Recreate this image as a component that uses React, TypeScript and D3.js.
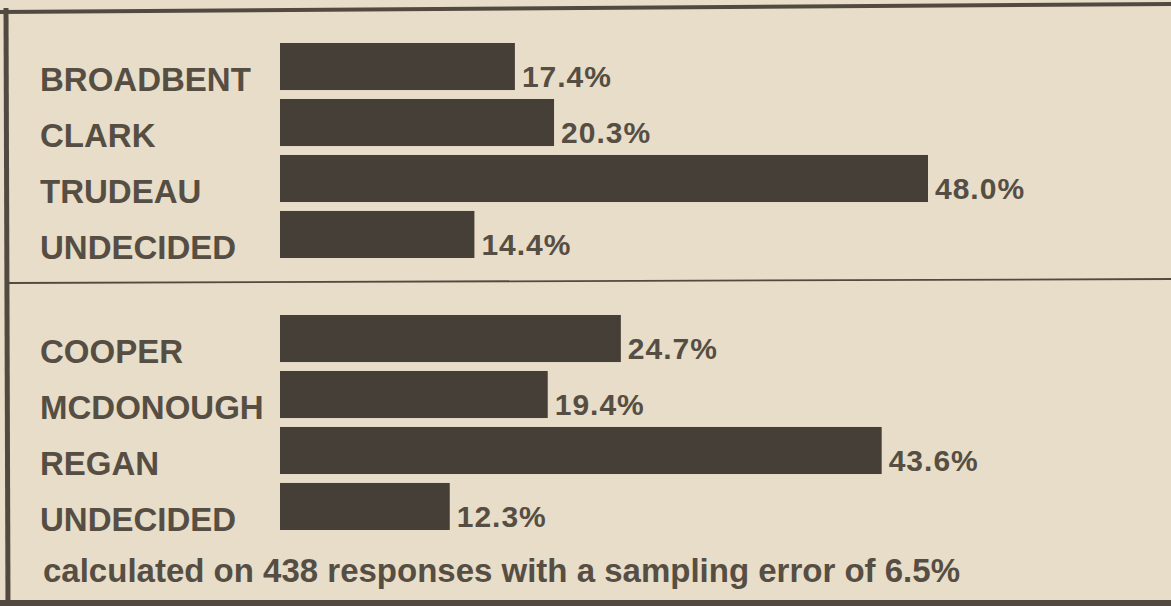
import React, { useEffect, useRef } from 'react';
import * as d3 from 'd3';

// Federal leaders (top panel)
const federalNames = ['BROADBENT', 'CLARK', 'TRUDEAU', 'UNDECIDED'];
const federalValues = [17.4, 20.3, 48.0, 14.4];

// Provincial / local (bottom panel)
const localNames = ['COOPER', 'MCDONOUGH', 'REGAN', 'UNDECIDED'];
const localValues = [24.7, 19.4, 43.6, 12.3];

const footnote = 'calculated on 438 responses with a sampling error of 6.5%';

const WIDTH = 1171;
const HEIGHT = 606;

const PAPER = '#e7ddc9';
const INK = '#463f37';
const TEXT = '#564e43';
const FONT = '"Liberation Sans", Arial, Helvetica, sans-serif';

interface Panel {
    names: string[];
    values: number[];
    yRange: [number, number];
    xMax: number;
}

const App: React.FC = () => {
    const svgRef = useRef<SVGSVGElement | null>(null);

    useEffect(() => {
        if (!svgRef.current) return;
        const svg = d3.select(svgRef.current);
        svg.selectAll('*').remove();

        svg.append('rect')
            .attr('width', WIDTH)
            .attr('height', HEIGHT)
            .attr('fill', PAPER);

        const labelX = 40;
        const barX = 280;

        const panels: Panel[] = [
            { names: federalNames, values: federalValues, yRange: [43, 258], xMax: 675 },
            { names: localNames, values: localValues, yRange: [315, 530], xMax: 690 },
        ];

        panels.forEach((p, i) => {
            const rows = p.names.map((n, j) => ({ key: `${i}-${j}`, name: n, value: p.values[j] }));

            const y = d3.scaleBand<string>()
                .domain(rows.map(r => r.key))
                .range(p.yRange)
                .paddingInner(0.16)
                .paddingOuter(0);

            // each panel was drawn on its own scale in the clipping
            const x = d3.scaleLinear()
                .domain([0, 50])
                .range([barX, barX + p.xMax]);

            const g = svg.append('g').attr('class', `panel-${i}`);

            g.selectAll('rect')
                .data(rows)
                .enter()
                .append('rect')
                .attr('x', x(0))
                .attr('y', d => y(d.key)!)
                .attr('width', d => x(d.value) - x(0))
                .attr('height', y.bandwidth())
                .attr('fill', INK);

            g.selectAll('text.name')
                .data(rows)
                .enter()
                .append('text')
                .attr('class', 'name')
                .attr('x', labelX)
                .attr('y', d => y(d.key)! + y.bandwidth() + 1)
                .attr('font-family', FONT)
                .attr('font-weight', 'bold')
                .attr('font-size', 33)
                .attr('fill', TEXT)
                .text(d => d.name);

            g.selectAll('text.value')
                .data(rows)
                .enter()
                .append('text')
                .attr('class', 'value')
                .attr('x', d => x(d.value) + 7)
                .attr('y', d => y(d.key)! + y.bandwidth() - 3)
                .attr('font-family', FONT)
                .attr('font-weight', 'bold')
                .attr('font-size', 30)
                .attr('letter-spacing', 1)
                .attr('fill', TEXT)
                .text(d => `${d.value.toFixed(1)}%`);
        });

        svg.append('text')
            .attr('x', 43)
            .attr('y', 582)
            .attr('font-family', FONT)
            .attr('font-weight', 'bold')
            .attr('font-size', 33)
            .attr('fill', TEXT)
            .text(footnote);

        // frame of the clipping (slightly skewed scan)
        const frame = svg.append('g').attr('stroke', '#524a40').attr('fill', 'none');
        frame.append('line')
            .attr('x1', 0).attr('y1', 12)
            .attr('x2', WIDTH).attr('y2', 4)
            .attr('stroke-width', 4);
        frame.append('line')
            .attr('x1', 6).attr('y1', 8)
            .attr('x2', 8).attr('y2', HEIGHT)
            .attr('stroke-width', 5);
        frame.append('line')
            .attr('x1', 0).attr('y1', 603)
            .attr('x2', WIDTH).attr('y2', 603)
            .attr('stroke-width', 6);
        frame.append('line')
            .attr('x1', 8).attr('y1', 283)
            .attr('x2', WIDTH).attr('y2', 279)
            .attr('stroke-width', 1.8);
    }, []);

    return (
        <svg
            ref={svgRef}
            width={WIDTH}
            height={HEIGHT}
            style={{ position: 'absolute', left: 0, top: 0, display: 'block' }}
        />
    );
};

export default App;
